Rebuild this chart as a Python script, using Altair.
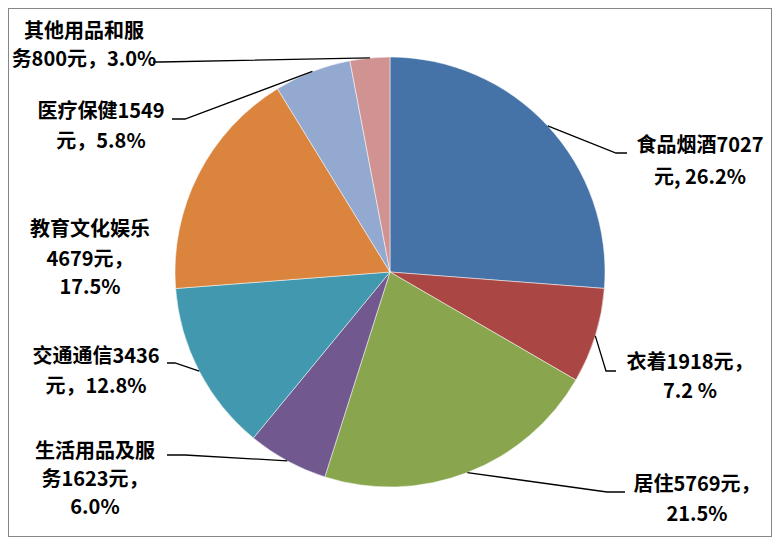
import math
import altair as alt
import pandas as pd

# ---------------- data ----------------
categories = ["食品烟酒", "衣着", "居住", "生活用品及服务", "交通通信",
              "教育文化娱乐", "医疗保健", "其他用品和服务"]
values = [7027, 1918, 5769, 1623, 3436, 4679, 1549, 800]
percents = ["26.2%", "7.2%", "21.5%", "6.0%", "12.8%", "17.5%", "5.8%", "3.0%"]
label_lines = [
    ["食品烟酒7027", "元, 26.2%"],
    ["衣着1918元，", "7.2 %"],
    ["居住5769元，", "21.5%"],
    ["生活用品及服", "务1623元，", "6.0%"],
    ["交通通信3436", "元，12.8%"],
    ["教育文化娱乐", "4679元，", "17.5%"],
    ["医疗保健1549", "元，5.8%"],
    ["其他用品和服", "务800元，3.0%"],
]

# ---------------- styles / layout ----------------
colors = ["#4572A7", "#AA4643", "#89A54E", "#71588F", "#4198AF",
          "#DB843D", "#93A9CF", "#D19392"]
OFF = 8                      # page margin
W, H = 764, 529
CX, CY, R = 390, 272, 215    # pie centre / radius (page pixels)
FONT = "Noto Sans CJK SC"

# label block: centre x, y of each line (page pixels)
label_layout = [
    (700, [146, 178]),
    (690, [363, 392]),
    (697, [485, 515]),
    (95, [452, 480, 508]),
    (96, [357, 387]),
    (90, [230, 260, 288]),
    (101, [112, 142]),
    (84, [32, 60]),
]
# leader lines: elbow and end points (page pixels)
leader_layout = [
    [(616, 153), (627, 153)],
    [(606, 371), (616, 371)],
    [(607, 492), (625, 492)],
    [(185, 455), (167, 455)],
    [(175, 363), (167, 363)],
    None,
    [(185, 119), (172, 119)],
    [(160, 62), (153, 62)],
]

# ---------------- tables ----------------
pie_df = pd.DataFrame({"cat": categories, "value": values,
                       "pct": percents, "idx": list(range(len(values)))})

total = sum(values)
cum = 0
edges = []
for v in values:
    mid = (cum + v / 2) / total * 2 * math.pi
    edges.append((CX + R * math.sin(mid), CY - R * math.cos(mid)))
    cum += v

line_rows = []
for i, pts in enumerate(leader_layout):
    if pts is None:
        continue
    seq = [edges[i]] + pts
    for k, (px, py) in enumerate(seq):
        line_rows.append({"id": categories[i], "seq": k, "x": px - OFF, "y": py - OFF})
line_df = pd.DataFrame(line_rows)

text_rows = []
for i, (cx, ys) in enumerate(label_layout):
    for j, t in enumerate(label_lines[i]):
        text_rows.append({"t": t, "x": cx - OFF, "y": ys[j] - OFF})
text_df = pd.DataFrame(text_rows)

xs = alt.Scale(domain=[0, W], range=[0, W])
ys_ = alt.Scale(domain=[0, H], range=[0, H])

pie = alt.Chart(pie_df).mark_arc(radius=R, stroke="white", strokeWidth=0.5).encode(
    theta=alt.Theta("value:Q", stack=True),
    color=alt.Color("cat:N", scale=alt.Scale(domain=categories, range=colors), legend=None),
    order=alt.Order("idx:Q"),
    x=alt.value(CX - OFF),
    y=alt.value(CY - OFF),
)

leaders = alt.Chart(line_df).mark_line(color="black", strokeWidth=1.3).encode(
    x=alt.X("x:Q", scale=xs, axis=None),
    y=alt.Y("y:Q", scale=ys_, axis=None),
    detail="id:N",
    order="seq:Q",
)

labels = alt.Chart(text_df).mark_text(
    font=FONT, fontSize=20, fontWeight="bold", color="black",
    align="center", baseline="middle",
).encode(
    x=alt.X("x:Q", scale=xs, axis=None),
    y=alt.Y("y:Q", scale=ys_, axis=None),
    text="t:N",
)

chart = alt.layer(pie, leaders, labels).properties(
    width=W, height=H, padding=0, autosize=alt.AutoSizeParams(type="none"),
    background="white",
).configure_view(stroke="#868686", strokeWidth=2)

chart.save("out.html", embed_options={"renderer": "svg", "actions": False})
